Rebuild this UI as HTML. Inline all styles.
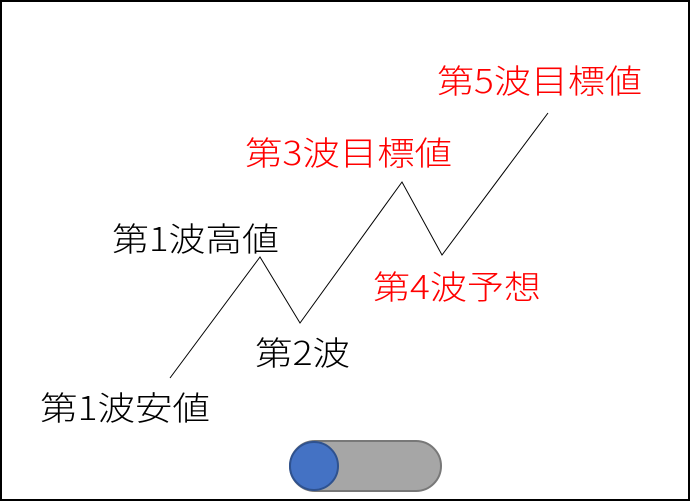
<!DOCTYPE html>
<html><head><meta charset="utf-8"><style>
html,body{margin:0;padding:0;background:#fff;}
svg{display:block;}
text{font-family:"Noto Sans CJK JP",sans-serif;font-weight:300;font-size:33px;dominant-baseline:central;}
</style></head><body>
<svg width="690" height="502" viewBox="0 0 690 502">
<rect x="1" y="1" width="688" height="499" fill="#fff" stroke="#000" stroke-width="2"/>
<polyline points="170,378 260,257 300,323 402,182 442,255 548,113" fill="none" stroke="#000" stroke-width="1"/>
<text x="40" y="406" textLength="170" lengthAdjust="spacingAndGlyphs">第1波安値</text>
<text x="112" y="237" textLength="167" lengthAdjust="spacingAndGlyphs">第1波高値</text>
<text x="255" y="351" textLength="95" lengthAdjust="spacingAndGlyphs">第2波</text>
<text x="245" y="151" fill="#f00" textLength="207" lengthAdjust="spacingAndGlyphs">第3波目標値</text>
<text x="373" y="285" fill="#f00" textLength="168" lengthAdjust="spacingAndGlyphs">第4波予想</text>
<text x="437" y="79" fill="#f00" textLength="205" lengthAdjust="spacingAndGlyphs">第5波目標値</text>
<rect x="290" y="441" width="151" height="50" rx="25" fill="#a6a6a6" stroke="#787878" stroke-width="2"/>
<circle cx="314" cy="466" r="24" fill="#4472c4" stroke="#2f528f" stroke-width="2"/>
</svg>
</body></html>
